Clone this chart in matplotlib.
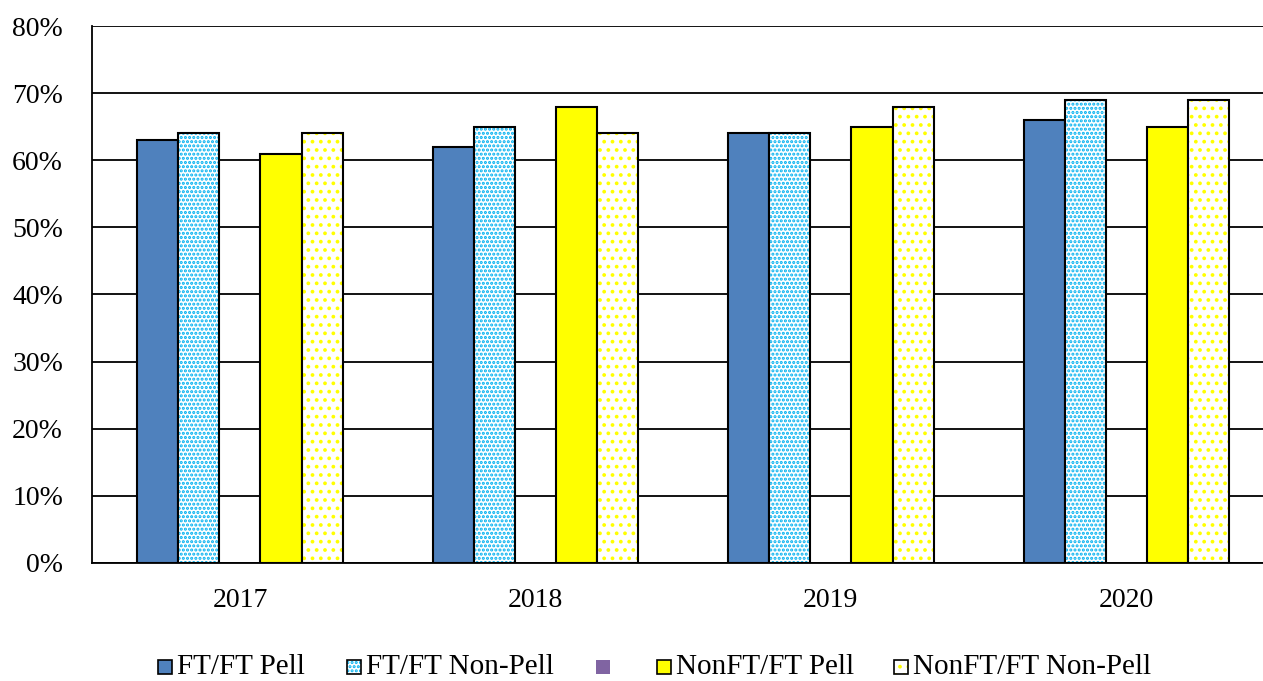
import matplotlib.pyplot as plt
from matplotlib.patches import Rectangle
import numpy as np

plt.rcParams['font.family'] = ['Liberation Serif', 'DejaVu Serif']

years = ["2017", "2018", "2019", "2020"]
ft_pell = [63, 62, 64, 66]
ft_nonpell = [64, 65, 64, 69]
spacer = [0, 0, 0, 0]
nonft_pell = [61, 68, 65, 65]
nonft_nonpell = [64, 64, 68, 69]

BLUE = "#4F81BD"
CYAN = "#00B0F0"
PURPLE = "#8064A2"
YEL = "#FFFF00"

W, H = 1263, 681
fig = plt.figure(figsize=(W / 100, H / 100), dpi=100)
# plot area runs slightly past the right edge of the image, as in the original
ax = fig.add_axes([0.0730, 0.1733, 0.9358, 0.7885])

x = np.arange(len(years))
w = 0.139
offs = [-2, -1, 0, 1, 2]

ax.bar(x + offs[0] * w, ft_pell, w, color=BLUE, edgecolor="black", lw=1.5, zorder=3)
ax.bar(x + offs[2] * w, spacer, w, color=PURPLE, lw=0, zorder=3)
ax.bar(x + offs[3] * w, nonft_pell, w, color=YEL, edgecolor="black", lw=1.5, zorder=3)

# dotted series: hatch layer then black outline
with plt.rc_context({"hatch.linewidth": 1.5}):
    ax.bar(x + offs[1] * w, ft_nonpell, w, color="white", edgecolor=CYAN, hatch="....", lw=0, zorder=3)
    ax.bar(x + offs[4] * w, nonft_nonpell, w, color="white", edgecolor=YEL, hatch="..", lw=0, zorder=3)
ax.bar(x + offs[1] * w, ft_nonpell, w, fill=False, edgecolor="black", lw=1.5, zorder=4)
ax.bar(x + offs[4] * w, nonft_nonpell, w, fill=False, edgecolor="black", lw=1.5, zorder=4)

ax.set_xlim(-0.5, 3.5)
ax.set_ylim(0, 80)
ax.set_yticks(range(0, 81, 10))
ax.set_yticklabels([f"{v}%" for v in range(0, 81, 10)])
ax.set_xticks(x)
ax.set_xticklabels(years)
ax.tick_params(length=0, labelsize=20)
ax.tick_params(axis="x", pad=18)
ax.tick_params(axis="y", pad=21)
ax.yaxis.grid(True, color="black", lw=1.3, zorder=0)
ax.set_axisbelow(True)
for s in ["top", "right"]:
    ax.spines[s].set_visible(False)
for s in ["left", "bottom"]:
    ax.spines[s].set_linewidth(1.3)

# legend, laid out by hand like the Excel original
labels = ["FT/FT Pell", "FT/FT Non-Pell", "", "NonFT/FT Pell", "NonFT/FT Non-Pell"]
sq_x = [158, 347, 596, 657, 894]
sq = 14
sq_top = 660
for i, (lab, px) in enumerate(zip(labels, sq_x)):
    x0 = px / W
    y0 = 1 - (sq_top + sq) / H
    ww, hh = sq / W, sq / H
    if i == 0:
        fig.add_artist(Rectangle((x0, y0), ww, hh, transform=fig.transFigure, fc=BLUE, ec="black", lw=1.2))
    elif i == 2:
        fig.add_artist(Rectangle((x0, y0), ww, hh, transform=fig.transFigure, fc=PURPLE, lw=0))
    elif i == 3:
        fig.add_artist(Rectangle((x0, y0), ww, hh, transform=fig.transFigure, fc=YEL, ec="black", lw=1.2))
    else:
        col, hat = (CYAN, "....") if i == 1 else (YEL, "..")
        with plt.rc_context({"hatch.linewidth": 1.5}):
            fig.add_artist(Rectangle((x0, y0), ww, hh, transform=fig.transFigure, fc="white", ec=col, hatch=hat, lw=0))
        fig.add_artist(Rectangle((x0, y0), ww, hh, transform=fig.transFigure, fill=False, ec="black", lw=1.2))
    if lab:
        fig.text((px + 19) / W, 1 - (sq_top + sq / 2) / H, lab, fontsize=21, va="center", ha="left")

fig.savefig("out.png", dpi=100)
